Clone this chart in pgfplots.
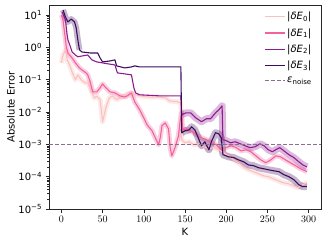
\documentclass[border=0pt]{standalone}
\usepackage{fontspec}
\setmainfont{DejaVu Sans}
\usepackage{pgfplots}
\pgfplotsset{compat=1.18}
\definecolor{cE0}{HTML}{FBC0C0}
\definecolor{cE1}{HTML}{F2629C}
\definecolor{cE2}{HTML}{8E1B8F}
\definecolor{cE3}{HTML}{3E0C5E}
\definecolor{cN}{HTML}{8B6F8E}
\begin{document}
\begin{tikzpicture}
\begin{axis}[
 name=ax,
 scale only axis, width=272pt, height=204pt,
 xmin=-15, xmax=315, ymode=log, ymin=1e-5, ymax=20.4,
 xtick={0,50,100,150,200,250,300},
 ytick={1e-5,1e-4,1e-3,1e-2,1e-1,1,10},
 yticklabels={10\textsuperscript{−5},10\textsuperscript{−4},10\textsuperscript{−3},10\textsuperscript{−2},10\textsuperscript{−1},10\textsuperscript{0},10\textsuperscript{1}},
 xtick pos=bottom, ytick pos=left, tick align=outside,
 major tick length=3.5pt, minor tick length=2pt,
 axis line style={black!85}, every tick/.style={black!85},
 tick label style={font=\fontsize{10}{12}\selectfont},
 label style={font=\fontsize{10}{12}\selectfont},
 xlabel={K}, ylabel={Absolute Error},
 xlabel style={at={(axis description cs:0.5,-0.113)}, anchor=center},
 ylabel style={at={(axis description cs:-0.14,0.5)}, anchor=center},
 legend style={at={(0.985,0.985)}, anchor=north east, draw=none, fill=none,
   font=\fontsize{10}{12}\selectfont, row sep=3pt},
 legend cell align=left,
 legend image code/.code={\draw[#1] (0pt,0pt) -- (20pt,0pt);},
 every axis plot/.append style={line join=round},
]
% ---- data ----
\pgfplotstableread{
K v
0 0.33
2 0.58
5 0.83
7 0.41
10 0.286
13 0.174
17 0.099
20 0.141
24 0.099
29 0.08
32 0.08
36 0.048
40 0.027
43 0.031
47 0.024
50 0.005
54 0.0135
58 0.027
62 0.0316
67 0.024
71 0.027
76 0.0316
80 0.0365
85 0.039
90 0.034
95 0.0316
107 0.029
119 0.029
127 0.027
131 0.022
140 0.021
145 0.019
146 0.00139
150 0.00112
155 0.0012
161 0.00097
167 0.00104
173 0.00084
179 0.00073
185 0.0008
191 0.00068
197 0.00055
203 0.00044
209 0.00033
215 0.00027
221 0.0002
227 0.000164
233 0.000143
239 0.000124
245 0.000107
251 0.0001
257 0.000087
263 0.000075
269 0.000065
275 0.000061
281 0.000053
287 0.000046
293 0.0000566
298 0.000065
}\Ezero
\pgfplotstableread{
K v
0 10
2 7.0
5 1.69
6 1.03
8 0.67
13 0.47
17 0.33
22 0.231
25 0.2
30 0.162
32 0.141
35 0.0855
38 0.042
43 0.042
47 0.056
50 0.074
54 0.056
59 0.042
65 0.039
71 0.0316
77 0.029
80 0.0316
85 0.039
89 0.0206
95 0.0117
100 0.0066
104 0.004
110 0.00263
115 0.00139
118 0.00097
120 0.0016
122 0.00375
126 0.0046
130 0.003
132 0.0008
134 0.00044
138 0.0008
142 0.0018
144 0.005
146 0.0094
147 0.0028
152 0.003
158 0.0025
164 0.00198
170 0.0016
176 0.00139
182 0.00112
188 0.00097
194 0.00068
200 0.0008
206 0.0009
212 0.0008
218 0.00063
224 0.00068
230 0.00059
236 0.00044
242 0.00033
248 0.00027
254 0.00033
260 0.00044
266 0.00041
272 0.00033
278 0.00027
284 0.00022
290 0.000177
298 0.000143
}\Eone
\pgfplotstableread{
K v
1 12.4
5 7.0
7 2.4
8 1.69
11 1.03
13 0.72
17 0.58
20 0.51
25 0.54
32 0.58
35 0.47
37 0.41
43 0.354
50 0.33
56 0.31
65 0.286
68 0.162
77 0.151
85 0.141
88 0.056
90 0.039
95 0.034
119 0.0316
145 0.0316
146 0.0082
151 0.0094
157 0.0094
163 0.0066
170 0.005
176 0.0062
181 0.0062
187 0.0094
191 0.0117
195 0.0155
196 0.00139
200 0.0013
205 0.00112
211 0.0012
217 0.00104
223 0.0009
229 0.00079
235 0.00084
241 0.00104
246 0.0009
251 0.00068
256 0.00059
260 0.00068
265 0.00079
270 0.00063
276 0.00048
282 0.00039
288 0.00029
293 0.00023
298 0.0002
}\Etwo
\pgfplotstableread{
K v
2 14.3
5 8.7
8 6.1
12 7.5
16 6.1
18 4.0
20 1.69
22 0.83
25 0.72
35 0.67
44 0.67
47 0.47
50 0.354
59 0.38
65 0.41
67 0.267
77 0.231
85 0.248
89 0.267
95 0.248
119 0.248
145 0.248
146 0.00228
150 0.00263
155 0.0028
158 0.0035
162 0.0028
167 0.00139
170 0.0009
174 0.0012
179 0.00068
182 0.0012
187 0.0023
191 0.0021
194 0.0016
196 0.00048
203 0.00041
209 0.00039
215 0.00033
221 0.00029
227 0.00023
233 0.00022
239 0.00019
245 0.000177
251 0.000164
257 0.000153
264 0.000143
270 0.000115
276 0.0001
282 0.0000807
288 0.0000566
293 0.000049
298 0.000049
}\Ethree
% ---- bands ----
\addplot[forget plot, cE0, opacity=0.35, line width=5pt] table[x=K,y=v]{\Ezero};
\addplot[forget plot, cE1, opacity=0.3, line width=5pt] table[x=K,y=v]{\Eone};
\addplot[forget plot, cE2, opacity=0.3, line width=7pt, restrict x to domain=146:300] table[x=K,y=v]{\Etwo};
\addplot[forget plot, cE3, opacity=0.3, line width=6pt, restrict x to domain=0:22] table[x=K,y=v]{\Ethree};
\addplot[forget plot, cE3, opacity=0.3, line width=7pt, restrict x to domain=146:300] table[x=K,y=v]{\Ethree};
% ---- lines ----
\addplot[cE0, line width=1.1pt] table[x=K,y=v]{\Ezero};
\addlegendentry{|\textit{δE}\textsubscript{0}|}
\addplot[cE1, line width=1.1pt] table[x=K,y=v]{\Eone};
\addlegendentry{|\textit{δE}\textsubscript{1}|}
\addplot[cE2, line width=1.1pt] table[x=K,y=v]{\Etwo};
\addlegendentry{|\textit{δE}\textsubscript{2}|}
\addplot[cE3, line width=1.1pt] table[x=K,y=v]{\Ethree};
\addlegendentry{|\textit{δE}\textsubscript{3}|}
\addplot[cN, line width=1pt, dash pattern=on 4pt off 2pt] coordinates {(-15,1e-3) (315,1e-3)};
\addlegendentry{\textit{ε}\textsubscript{noise}}
\end{axis}
\pgfresetboundingbox
\path ([xshift=-49pt,yshift=-35pt]ax.south west) rectangle ([xshift=7pt,yshift=5pt]ax.north east);
\end{tikzpicture}
\end{document}
